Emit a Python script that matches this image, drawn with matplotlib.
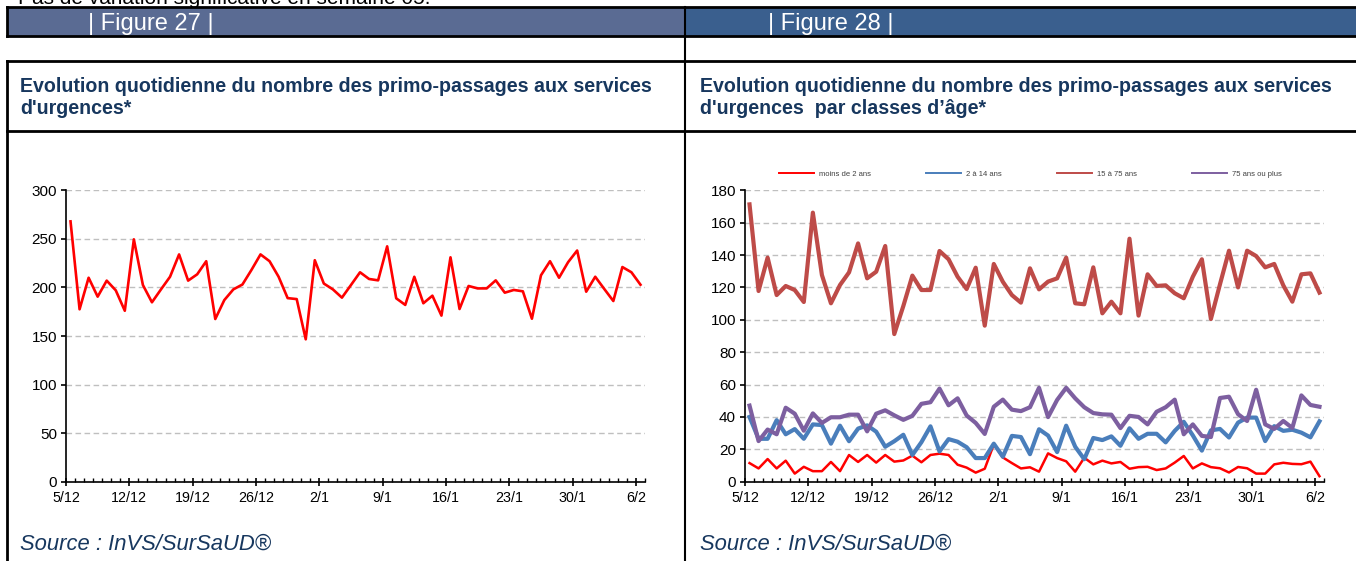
import numpy as np
import matplotlib
matplotlib.use('Agg')
import matplotlib.pyplot as plt
from matplotlib.lines import Line2D
from matplotlib.patches import Rectangle

# ---------------- data ----------------
tick_labels = ['5/12', '12/12', '19/12', '26/12', '2/1', '9/1', '16/1', '23/1', '30/1', '6/2']

total = [268, 177.5, 210, 190.5, 207, 197, 176, 249.5, 202.5, 184.7,
         198, 211, 234, 207, 213.5, 227, 167.5, 187, 198, 203,
         218, 234, 227, 211, 189, 188, 146.6, 228, 204, 198,
         189.5, 202.5, 215.6, 208.7, 207.3, 242.3, 188.8, 182, 211, 183.7,
         191.5, 171, 231, 177.8, 201.5, 199, 199, 207.3, 194.6, 197.4,
         196, 167.8, 212.5, 227, 210, 226, 238, 195.6, 211, 198.4,
         186, 221, 215.6, 202.8]

moins_2 = [11.5, 8.2, 14, 8.2, 13, 5, 9.2, 6.5, 6.5, 12.2,
           6.5, 16.5, 12.2, 16.5, 11.8, 16.5, 12.4, 13.1, 16.1, 12,
           16.5, 17.3, 16.5, 10.5, 8.7, 5.6, 8, 23, 15, 11.5,
           8.2, 8.9, 6.2, 17.5, 14.6, 12.6, 6.2, 14.8, 10.7, 13,
           11.3, 12.2, 8, 9, 9.2, 7.2, 8.2, 11.8, 15.9, 8.2,
           11.3, 9, 8.3, 5.7, 9.1, 8.3, 5, 5, 10.7, 11.7,
           11, 10.8, 12.4, 3.4]

de_2_14 = [40, 26.5, 26.5, 38, 29.3, 32.5, 26.5, 35.4, 35, 23.5,
           34.6, 25, 32.8, 34.8, 30.9, 21.6, 25, 29, 16.5, 24.4,
           34.2, 18.7, 26.3, 24.7, 21.3, 14.6, 14.6, 23.5, 15.4, 28.3,
           27.6, 17, 32.4, 28.5, 18.3, 34.6, 21.6, 13.9, 27, 25.7,
           28, 22.2, 33, 26.5, 29.6, 29.6, 24.3, 31.4, 37, 28.6,
           19.2, 31.7, 32.6, 27.3, 36.5, 39.6, 39.6, 25.1, 34.3, 31.4,
           32.1, 30.3, 27.4, 37.3]

de_15_75 = [171.3, 117.8, 138.4, 115.3, 120.9, 118.4, 111, 166.2, 127.7, 110.2,
            121.5, 129.3, 147.2, 125.6, 129.7, 145.6, 91.2, 108.5, 127.3, 118.4,
            118.4, 142.5, 137.4, 126.6, 119, 132.2, 96.4, 134.5, 123.5, 115.3,
            110.6, 131.8, 118.8, 123.6, 125.6, 138.4, 110.2, 109.6, 132.4, 104,
            111.2, 104, 150.1, 102.6, 128.1, 120.9, 121.3, 116.4, 113.3, 126.6,
            137.4, 100.5, 121.9, 142.7, 120, 142.7, 139.4, 132.4, 134.5, 121.3,
            111.2, 128.1, 128.7, 116.8]

plus_75 = [47, 25.1, 32.2, 29.3, 45.7, 42, 31.5, 42.2, 36.3, 39.8,
           39.8, 41.4, 41.4, 31.1, 42, 44.1, 41, 38.2, 40.7, 48.1,
           49.1, 57.5, 47.2, 51.5, 40.9, 36.3, 29.5, 46.3, 50.7, 44.5,
           43.6, 46, 58, 39.9, 50.5, 58, 51.5, 46, 42.4, 41.6,
           41.4, 33.1, 40.7, 40, 35.4, 43.2, 46, 50.7, 29.3, 35.4,
           28.3, 27.6, 51.7, 52.5, 41.7, 37.5, 56.8, 35.4, 32.6, 37.5,
           33.2, 53.3, 47.4, 46.3]

series_names = ['moins de 2 ans', '2 à 14 ans', '15 à 75 ans', '75 ans ou plus']
series_vals = [moins_2, de_2_14, de_15_75, plus_75]
series_colors = ['#FF0000', '#4A7EBB', '#BE4B48', '#7D5FA0']
series_lw = [1.8, 3.0, 3.0, 3.0]

header_texts = ['| Figure 27 |', '| Figure 28 |']
titles = ["Evolution quotidienne du nombre des primo-passages aux services\nd'urgences*",
          "Evolution quotidienne du nombre des primo-passages aux services\nd'urgences  par classes d\u2019âge*"]
source_text = 'Source : InVS/SurSaUD®'
top_text = 'Pas de variation significative en semaine 05.'

# ---------------- figure ----------------
W, H = 1356, 561
fig = plt.figure(figsize=(W / 100, H / 100), dpi=100)
plt.rcParams['font.family'] = ['Liberation Sans', 'DejaVu Sans']
narrow = ['Liberation Sans Narrow', 'Liberation Sans', 'DejaVu Sans']

def fx(x):
    return x / W

def fy(y):
    return 1 - y / H

def rect(l, t, r, b):
    return [l / W, 1 - b / H, (r - l) / W, (b - t) / H]

def hline(y, x0, x1, lw=1.5):
    fig.add_artist(Line2D([fx(x0), fx(x1)], [fy(y), fy(y)], color='black', lw=lw))

def vline(x, y0, y1, lw=1.5):
    fig.add_artist(Line2D([fx(x), fx(x)], [fy(y0), fy(y1)], color='black', lw=lw))

# header bars
fig.add_artist(Rectangle((fx(7), fy(36)), fx(685) - fx(7), fy(7) - fy(36),
                         facecolor='#5A6B93', edgecolor='none'))
fig.add_artist(Rectangle((fx(685), fy(36)), fx(1356) - fx(685), fy(7) - fy(36),
                         facecolor='#3A5F8E', edgecolor='none'))
fig.text(fx(88), fy(24), header_texts[0], color='white', fontsize=17, va='center',
         family=narrow)
fig.text(fx(768), fy(24), header_texts[1], color='white', fontsize=17, va='center',
         family=narrow)

# top text (only its lower part is visible in the original page crop)
fig.text(fx(18), fy(4), top_text, color='black', fontsize=15, va='baseline',
         family=narrow)

# borders
hline(7, 7, 1356, 2)
hline(36, 7, 1356, 2)
vline(7, 7, 36, 2)
vline(685, 7, 561, 1.5)
hline(61, 7, 1356, 2)
hline(131, 7, 1356, 2)
vline(7, 61, 561, 2)

# titles
for x0, t in zip([20, 700], titles):
    fig.text(fx(x0), fy(97.5), t, color='#17375E', fontsize=14.1, fontweight='bold',
             va='center', ha='left', linespacing=1.2)

# source
for x0 in [20, 700]:
    fig.text(fx(x0), fy(544), source_text, color='#17375E', fontsize=15.8, style='italic',
             va='center', family=narrow)

# ---------------- axes ----------------
ndays = len(total)
xpos = np.arange(ndays) + 0.5

def style(ax, ymax, step):
    ax.set_xlim(0, ndays)
    ax.set_ylim(0, ymax)
    ax.set_yticks(np.arange(0, ymax + 1, step))
    ax.set_xticks(np.arange(0, ndays, 7))
    ax.set_xticklabels(tick_labels)
    ax.set_xticks(np.arange(0, ndays + 1, 1), minor=True)
    for s in ['top', 'right']:
        ax.spines[s].set_visible(False)
    for s in ['left', 'bottom']:
        ax.spines[s].set_linewidth(1.2)
    ax.yaxis.grid(True, linestyle=(0, (4, 2.5)), color='#BFBFBF', lw=1.0)
    ax.set_axisbelow(True)
    ax.tick_params(axis='y', direction='out', length=3.5, width=1.2, labelsize=11, pad=3)
    ax.tick_params(axis='x', which='major', direction='inout', length=6, width=1.2,
                   labelsize=10.3, pad=4)
    ax.tick_params(axis='x', which='minor', direction='in', length=3, width=1)
    ax.patch.set_alpha(0)

ax1 = fig.add_axes(rect(66, 190.3, 645, 481.7))
style(ax1, 300, 50)
ax1.plot(xpos, total, color='#FF0000', lw=1.9, clip_on=False)

ax2 = fig.add_axes(rect(745, 190.3, 1324, 481.7))
style(ax2, 180, 20)
for name, vals, c, lw in zip(series_names, series_vals, series_colors, series_lw):
    ax2.plot(xpos, vals, color=c, lw=lw, label=name, clip_on=False)

handles = [Line2D([], [], color=c, lw=1.4) for c in series_colors]
fig.legend(handles, series_names, loc='center left', bbox_to_anchor=(fx(779), fy(174)),
           ncol=4, frameon=False, fontsize=5.5, handlelength=4.6, handletextpad=0.65,
           columnspacing=7.2, borderpad=0, borderaxespad=0, labelcolor='#404040')

fig.savefig('out.png', dpi=100)
